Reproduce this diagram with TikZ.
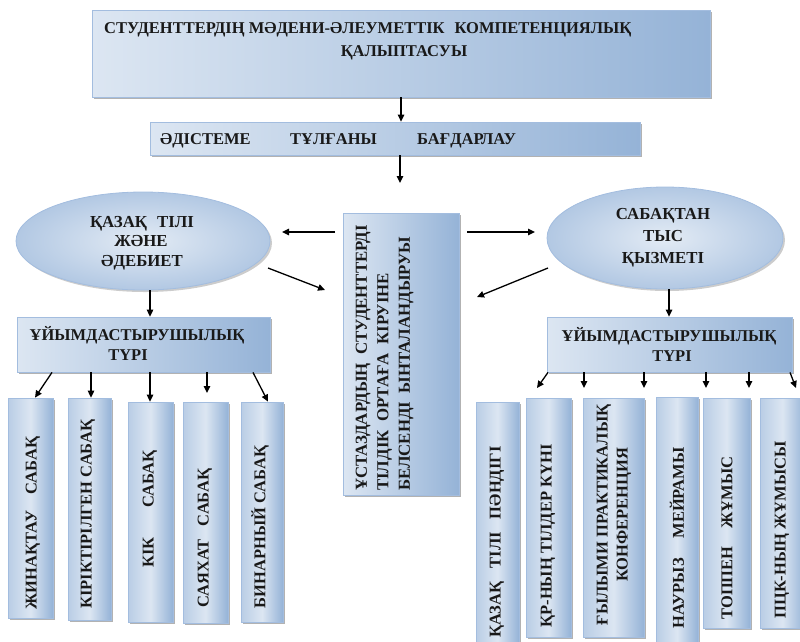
\documentclass[tikz,border=0pt]{standalone}
\usepackage{fontspec}
\setmainfont{Liberation Serif}
\usetikzlibrary{arrows.meta,shadows,shapes.geometric}
\definecolor{lite}{HTML}{DCE6F2}
\definecolor{dark}{HTML}{95B3D7}
\definecolor{midb}{HTML}{B9CDE5}
\definecolor{edge}{HTML}{A3BDDF}
\definecolor{elout}{HTML}{B2C8E3}
\begin{document}
\begin{tikzpicture}[x=1pt,y=-1pt,
  box/.style={draw=edge, line width=0.8pt, left color=lite, right color=dark, inner sep=0pt,
    drop shadow={shadow xshift=2pt, shadow yshift=-2pt, opacity=0.3, fill=black}},
  vbox/.style={draw=edge, line width=0.8pt, left color=midb, right color=dark, middle color=lite, inner sep=0pt,
    drop shadow={shadow xshift=2pt, shadow yshift=-2pt, opacity=0.3, fill=black}},
  ell/.style={ellipse, draw=edge, line width=0.8pt, inner color=lite!80!white, outer color=elout, inner sep=0pt,
    drop shadow={shadow xshift=2pt, shadow yshift=-2pt, opacity=0.2, fill=black}},
  arr/.style={-{Triangle[length=7pt,width=6.5pt]}, line width=1.3pt, black},
  txt/.style={font=\bfseries\fontsize{16.5}{20}\selectfont, inner sep=0pt, text=black!90},
  etxt/.style={font=\bfseries\fontsize{16.8}{20}\selectfont, inner sep=0pt, text=black!90, anchor=base},
  vtxt/.style={txt, rotate=90},
]
\useasboundingbox (0,0) rectangle (800,641);
% main boxes
\node[box, minimum width=618pt, minimum height=87pt] (top) at (401,53.5) {};
\node[txt, anchor=base west] (topA) at (104,33) {СТУДЕНТТЕРДІҢ МӘДЕНИ-ӘЛЕУМЕТТІК\hspace{0.6em}КОМПЕТЕНЦИЯЛЫҚ};
\node[txt, anchor=base] (topB) at (404,56) {ҚАЛЫПТАСУЫ};
\node[box, minimum width=490pt, minimum height=33pt] (meth) at (395,138.5) {};
\node[txt, anchor=base west] (m1) at (160,144) {ӘДІСТЕМЕ};
\node[txt, anchor=base west] (m2) at (290,144) {ТҰЛҒАНЫ};
\node[txt, anchor=base west] (m3) at (417,144) {БАҒДАРЛАУ};
% center box
\node[box, minimum width=116pt, minimum height=282pt] (cen) at (401,354) {};
\node[txt, rotate=90, anchor=west, align=left, font=\bfseries\fontsize{16.8}{21.5}\selectfont] (centxt) at (384.5,491)
  {ҰСТАЗДАРДЫҢ\hspace{0.5em}СТУДЕНТТЕРДІ\\ТІЛДІК\hspace{0.5em}ОРТАҒА\hspace{0.5em}КІРУІНЕ\\БЕЛСЕНДІ\hspace{0.5em}ЫНТАЛАНДЫРУЫ};
% ellipses
\node[ell, minimum width=254pt, minimum height=98pt] (lell) at (143,241) {};
\node[etxt] (le1) at (142,227) {ҚАЗАҚ\hspace{0.6em}ТІЛІ};
\node[etxt] (le2) at (141,246) {ЖӘНЕ};
\node[etxt] (le3) at (142,266) {ӘДЕБИЕТ};
\node[ell, minimum width=236pt, minimum height=102pt] (rell) at (665,238) {};
\node[etxt] (re1) at (663,219) {САБАҚТАН};
\node[etxt] (re2) at (663,241) {ТЫС};
\node[etxt] (re3) at (663,263) {ҚЫЗМЕТІ};
% org boxes
\node[box, minimum width=253pt, minimum height=55pt] (lorg) at (143.5,344.5) {};
\node[txt, anchor=base] (lo1) at (137,340) {ҰЙЫМДАСТЫРУШЫЛЫҚ};
\node[txt, anchor=base] (lo2) at (128,360) {ТҮРІ};
\node[box, minimum width=245pt, minimum height=55pt] (rorg) at (669.5,344.5) {};
\node[txt, anchor=base] (ro1) at (669,341) {ҰЙЫМДАСТЫРУШЫЛЫҚ};
\node[txt, anchor=base] (ro2) at (672,361) {ТҮРІ};
% left vertical boxes
\node[vbox, minimum width=45pt, minimum height=220pt] (L1) at (30.5,508) {};
\node[vbox, minimum width=43pt, minimum height=222pt] (L2) at (89.5,509) {};
\node[vbox, minimum width=45pt, minimum height=220pt] (L3) at (150.5,512) {};
\node[vbox, minimum width=45pt, minimum height=221pt] (L4) at (205.5,512.5) {};
\node[vbox, minimum width=42pt, minimum height=220pt] (L5) at (262,512) {};
\node[vtxt] (l1t) at (33,523) {ЖИНАҚТАУ\hspace{1em}САБАҚ};
\node[vtxt] (l2t) at (88,514) {КІРІКТІРІЛГЕН САБАҚ};
\node[vtxt] (l3t) at (150,509) {КІК\hspace{1.8em}САБАҚ};
\node[vtxt] (l4t) at (205,538) {САЯХАТ\hspace{0.8em}САБАҚ};
\node[vtxt] (l5t) at (260,527) {БИНАРНЫЙ САБАҚ};
% right vertical boxes
\node[vbox, minimum width=43pt, minimum height=243pt] (R1) at (497.5,523.5) {};
\node[vbox, minimum width=45pt, minimum height=239pt] (R2) at (548.5,517.5) {};
\node[vbox, minimum width=61pt, minimum height=239pt] (R3) at (613.5,517.5) {};
\node[vbox, minimum width=42pt, minimum height=248pt] (R4) at (677,521) {};
\node[vbox, minimum width=47pt, minimum height=230pt] (R5) at (726.5,513) {};
\node[vbox, minimum width=45pt, minimum height=230pt] (R6) at (782.5,513) {};
\node[vtxt] (r1t) at (497,542) {ҚАЗАҚ\hspace{0.8em}ТІЛІ\hspace{0.8em}ПӘНДІГІ};
\node[vtxt] (r2t) at (548,536) {ҚР-НЫҢ ТІЛДЕР КҮНІ};
\node[vtxt, align=center, font=\bfseries\fontsize{16.5}{20}\selectfont] (r3t) at (614,515) {ҒЫЛЫМИ ПРАКТИКАЛЫҚ\\КОНФЕРЕНЦИЯ};
\node[vtxt] (r4t) at (677,538) {НАУРЫЗ\hspace{1.2em}МЕЙРАМЫ};
\node[vtxt] (r5t) at (727,538) {ТОППЕН\hspace{1.1em}ЖҰМЫС};
\node[vtxt] (r6t) at (782,530) {ПЦК-НЫҢ ЖҰМЫСЫ};
% free arrow ends
\coordinate (methout) at (400,183);
\coordinate (cl1) at (335,232);
\coordinate (cl2) at (325,290);
\coordinate (le0) at (268,268);
\coordinate (cr1) at (467,232);
\coordinate (cr2) at (477,297);
\coordinate (re0) at (548,268);
% connectors
\draw[arr] (top.south) -- (meth.north -| top.south);
\draw[arr] (meth.south -| methout) -- (methout);
\draw[arr] (cl1) -- (282,232);
\draw[arr] (le0) -- (cl2);
\draw[arr] (lell.south -| 150,0) -- (lorg.north -| 150,0);
\draw[arr] (cr1) -- (535,232);
\draw[arr] (re0) -- (cr2);
\draw[arr] (rell.south -| 669,0) -- (rorg.north -| 669,0);
% left fan
\draw[arr] (lorg.south -| 52,0) -- (L1.north -| 35,0);
\draw[arr] (lorg.south -| 91,0) -- (L2.north -| 91,0);
\draw[arr] (lorg.south -| 150,0) -- (L3.north -| 150,0);
\draw[arr] (lorg.south -| 207,0) -- (207,393);
\draw[arr] (lorg.south -| 253,0) -- (L5.north -| 268,0);
% right fan
\draw[arr] (rorg.south -| 548,0) -- (537,388);
\draw[arr] (rorg.south -| 584,0) -- (584,388);
\draw[arr] (rorg.south -| 644,0) -- (644,388);
\draw[arr] (rorg.south -| 706,0) -- (706,388);
\draw[arr] (rorg.south -| 749,0) -- (749,388);
\draw[arr] (rorg.south -| 790,0) -- (796,388);
\end{tikzpicture}
\end{document}
